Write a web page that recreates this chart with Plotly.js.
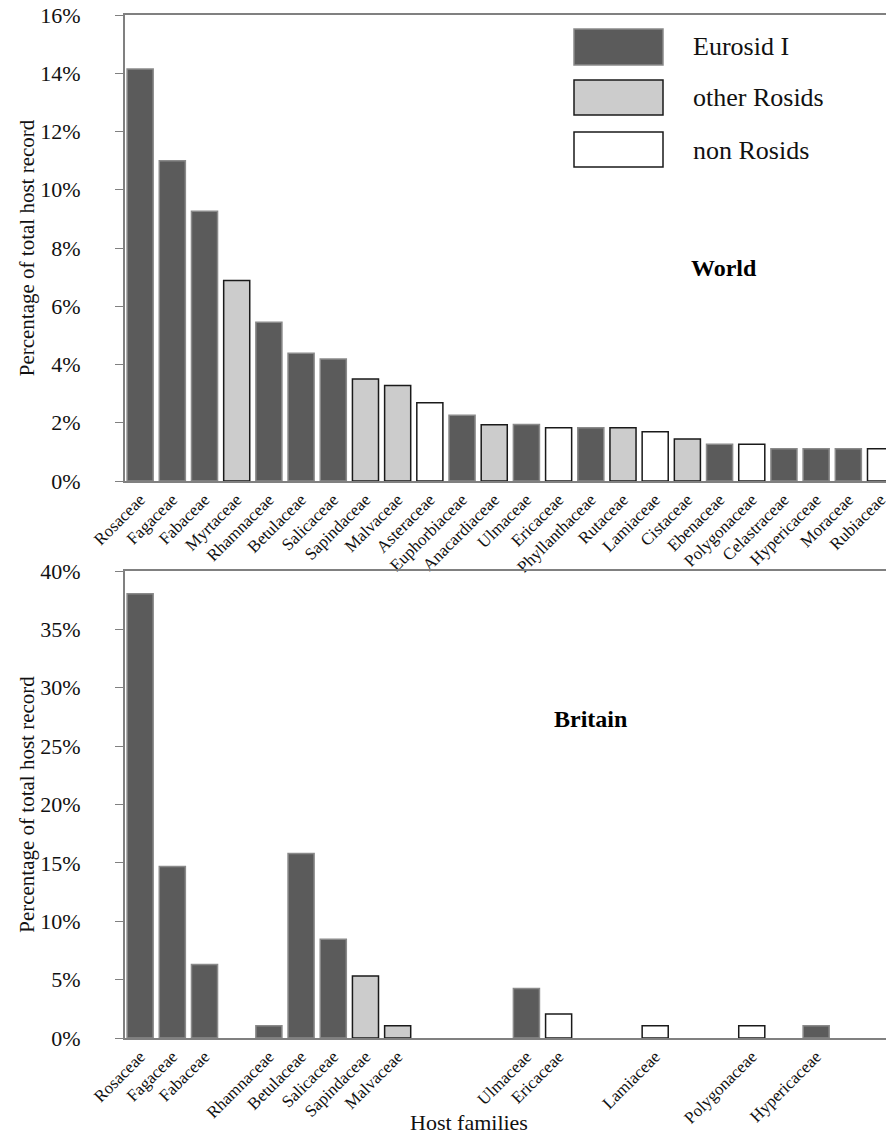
<!DOCTYPE html>
<html><head><meta charset="utf-8">
<script src="https://cdn.plot.ly/plotly-3.0.1.min.js"></script>
<style>html,body{margin:0;padding:0;background:#fff}</style>
</head><body><div id="chart" style="width:886px;height:1135px"></div>
<script>
// ---- data ----
const worldFamilies = ['Rosaceae','Fagaceae','Fabaceae','Myrtaceae','Rhamnaceae','Betulaceae','Salicaceae','Sapindaceae','Malvaceae','Asteraceae','Euphorbiaceae','Anacardiaceae','Ulmaceae','Ericaceae','Phyllanthaceae','Rutaceae','Lamiaceae','Cistaceae','Ebenaceae','Polygonaceae','Celastraceae','Hypericaceae','Moraceae','Rubiaceae'];
const worldValues = [14.15,11.0,9.26,6.88,5.45,4.39,4.19,3.50,3.28,2.69,2.26,1.93,1.94,1.83,1.83,1.83,1.69,1.44,1.26,1.26,1.11,1.11,1.11,1.11];
const worldGroups = ['Eurosid I','Eurosid I','Eurosid I','other Rosids','Eurosid I','Eurosid I','Eurosid I','other Rosids','other Rosids','non Rosids','Eurosid I','other Rosids','Eurosid I','non Rosids','Eurosid I','other Rosids','non Rosids','other Rosids','Eurosid I','non Rosids','Eurosid I','Eurosid I','Eurosid I','non Rosids'];
const britainFamilies = ['Rosaceae','Fagaceae','Fabaceae','Rhamnaceae','Betulaceae','Salicaceae','Sapindaceae','Malvaceae','Ulmaceae','Ericaceae','Lamiaceae','Polygonaceae','Hypericaceae'];
const britainValues = [38.05,14.69,6.29,1.05,15.81,8.46,5.32,1.05,4.23,2.06,1.05,1.05,1.05];
const britainGroups = ['Eurosid I','Eurosid I','Eurosid I','Eurosid I','Eurosid I','Eurosid I','other Rosids','other Rosids','Eurosid I','non Rosids','non Rosids','non Rosids','Eurosid I'];
const groupNames = ['Eurosid I','other Rosids','non Rosids'];
const worldTicks = [0,2,4,6,8,10,12,14,16];
const worldTickLabels = ['0%','2%','4%','6%','8%','10%','12%','14%','16%'];
const britainTicks = [0,5,10,15,20,25,30,35,40];
const britainTickLabels = ['0%','5%','10%','15%','20%','25%','30%','35%','40%'];

// ---- styles ----
const fills = {'Eurosid I':'#5b5b5b','other Rosids':'#cccccc','non Rosids':'#ffffff'};
const edges = {'Eurosid I':'#8a8a8a','other Rosids':'#1a1a1a','non Rosids':'#1a1a1a'};
const FONT = 'Liberation Serif, Times New Roman, serif';
const W = 886, H = 1135, ML = 125, MR = 0, MT = 15, MB = 97;
const px2x = p => (p - ML) / (W - ML - MR);
const px2y = p => (H - MB - p) / (H - MT - MB);

const worldIdx = worldFamilies.map((f, i) => i);
const britainIdx = britainFamilies.map(f => worldFamilies.indexOf(f));

const traces = [
  {type:'bar', x: worldIdx, y: worldValues, xaxis:'x', yaxis:'y', showlegend:false,
   marker:{color: worldGroups.map(g => fills[g]), line:{color: worldGroups.map(g => edges[g]), width:1.5}},
   hovertext: worldFamilies},
  {type:'bar', x: britainIdx, y: britainValues, xaxis:'x2', yaxis:'y2', showlegend:false,
   marker:{color: britainGroups.map(g => fills[g]), line:{color: britainGroups.map(g => edges[g]), width:1.5}},
   hovertext: britainFamilies}
];

const xr = [-0.47, 23.17];
const axisCommonX = {range: xr, showline:true, linecolor:'#808080', linewidth:2, mirror:true,
  ticks:'', showgrid:false, zeroline:false, tickangle:-45, ticklabeloverflow:'allow',
  tickfont:{family:FONT, size:17, color:'#111'}};
const axisCommonY = {showline:true, linecolor:'#808080', linewidth:2, ticks:'outside', ticklen:8,
  tickcolor:'#808080', tickwidth:1, showgrid:false, zeroline:false,
  tickfont:{family:FONT, size:22, color:'#111'}, ticklabelstandoff:30,
  title:{text:'Percentage of total host record', font:{family:FONT, size:21, color:'#111'}, standoff:0}};

const layout = {
  width: W, height: H, margin:{l:ML, r:MR, t:MT, b:MB},
  paper_bgcolor:'#fff', plot_bgcolor:'#fff', bargap:0.19, showlegend:false,
  font:{family:FONT, color:'#111'},
  xaxis: Object.assign({}, axisCommonX, {domain:[0,1], anchor:'y', tickvals: worldIdx, ticktext: worldFamilies}),
  yaxis: Object.assign({}, axisCommonY, {domain:[px2y(481), 1], anchor:'x', range:[0,16], tickvals: worldTicks, ticktext: worldTickLabels}),
  xaxis2: Object.assign({}, axisCommonX, {domain:[0,1], anchor:'y2', tickvals: britainIdx, ticktext: britainFamilies}),
  yaxis2: Object.assign({}, axisCommonY, {domain:[0, px2y(571)], anchor:'x2', range:[0,40], tickvals: britainTicks, ticktext: britainTickLabels}),
  shapes: [], annotations: []
};

// custom legend
const boxY = [[29,65],[80,115],[132,167]];
const textY = [47, 97, 150];
groupNames.forEach((g, i) => {
  layout.shapes.push({type:'rect', xref:'paper', yref:'paper', x0:px2x(574), x1:px2x(663), y0:px2y(boxY[i][1]), y1:px2y(boxY[i][0]),
    fillcolor: fills[g], line:{color: edges[g], width:1.5}});
  layout.annotations.push({xref:'paper', yref:'paper', x:px2x(691), y:px2y(textY[i]), xanchor:'left', yanchor:'middle',
    text:g, showarrow:false, font:{family:FONT, size:26, color:'#111'}});
});
layout.annotations.push({xref:'paper', yref:'paper', x:px2x(724), y:px2y(268), xanchor:'center', yanchor:'middle',
  text:'<b>World</b>', showarrow:false, font:{family:FONT, size:24, color:'#000'}});
layout.annotations.push({xref:'paper', yref:'paper', x:px2x(590), y:px2y(719), xanchor:'center', yanchor:'middle',
  text:'<b>Britain</b>', showarrow:false, font:{family:FONT, size:24, color:'#000'}});
layout.annotations.push({xref:'paper', yref:'paper', x:px2x(469), y:px2y(1122), xanchor:'center', yanchor:'middle',
  text:'Host families', showarrow:false, font:{family:FONT, size:22, color:'#111'}});

Plotly.newPlot('chart', traces, layout, {displayModeBar:false, staticPlot:true});
</script></body></html>
